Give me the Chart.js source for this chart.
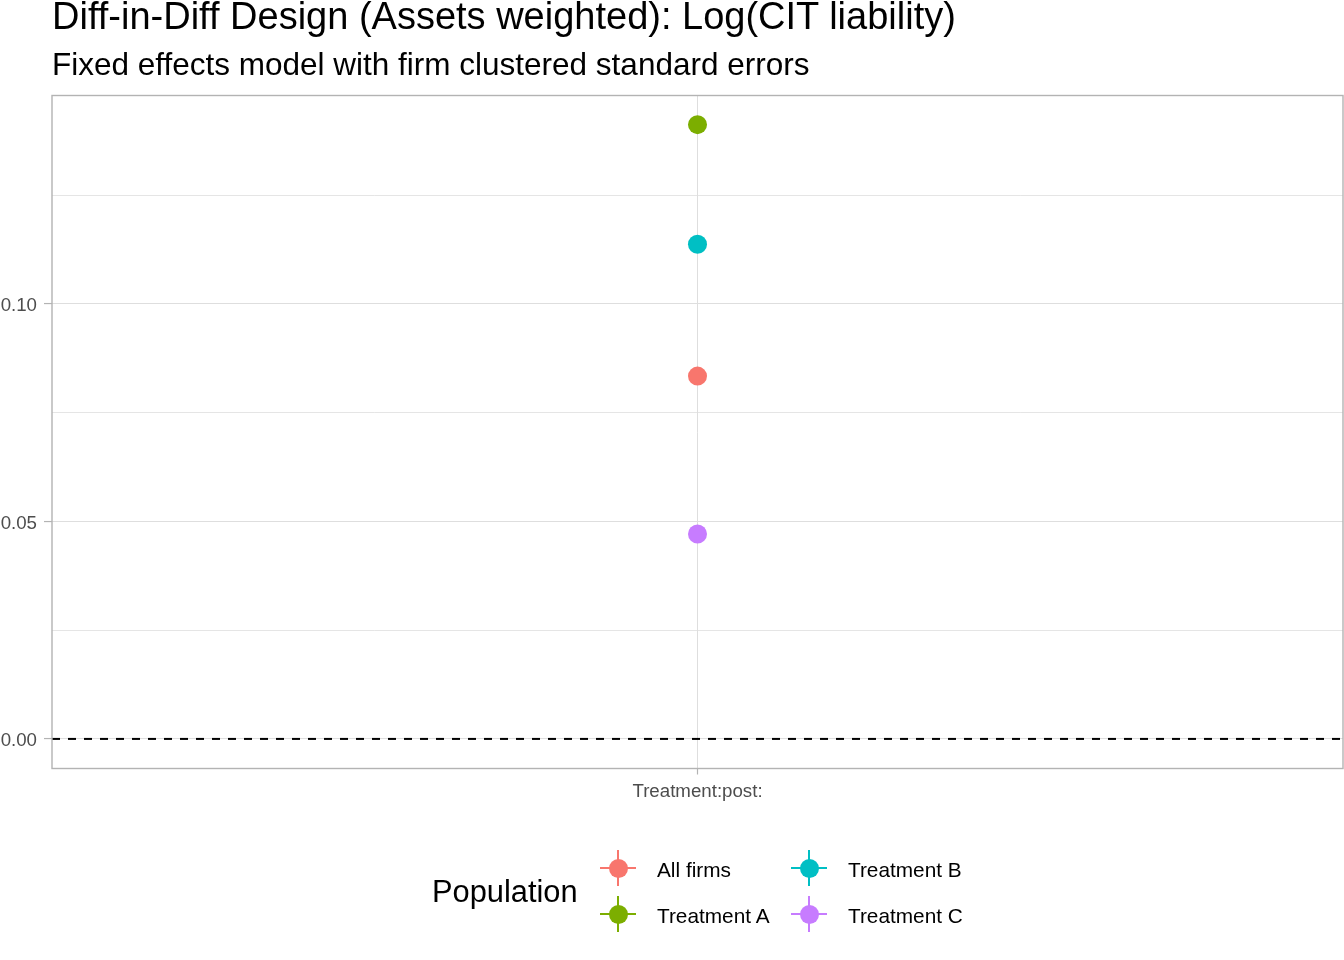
<!DOCTYPE html>
<html>
<head>
<meta charset="utf-8">
<title>Diff-in-Diff Design (Assets weighted): Log(CIT liability)</title>
<script src="https://cdn.jsdelivr.net/npm/chart.js@4.4.1/dist/chart.umd.min.js"></script>
<style>
  html, body { margin: 0; padding: 0; background: #fff; }
  body { font-family: "Liberation Sans", Arial, sans-serif; }
  #wrap { position: relative; width: 1344px; height: 960px; overflow: hidden; }
  #chart { position: absolute; left: 0; top: 0; }
  .title { position: absolute; left: 52px; white-space: nowrap; color: #000; line-height: 1; }
  #main-title { font-size: 38px; top: -3px; }
  #sub-title { font-size: 31.5px; top: 49px; }
  #legend-title { position: absolute; left: 432px; top: 877px; font-size: 30.8px; line-height: 1; white-space: nowrap; }
  .key { position: absolute; width: 36px; height: 36px; }
  .key .h { position: absolute; left: 0; top: 17px; width: 36px; height: 2px; }
  .key .v { position: absolute; left: 17px; top: 0; width: 2px; height: 36px; }
  .key .dot { position: absolute; left: 8.5px; top: 8.5px; width: 19px; height: 19px; border-radius: 50%; }
  .key-label { position: absolute; font-size: 20.8px; line-height: 1; white-space: nowrap; color: #000; }
</style>
</head>
<body>
<div id="wrap">
  <canvas id="chart" width="1344" height="960"></canvas>
  <div id="main-title" class="title">Diff-in-Diff Design (Assets weighted): Log(CIT liability)</div>
  <div id="sub-title" class="title">Fixed effects model with firm clustered standard errors</div>
  <div id="legend-title">Population</div>
  <div id="legend"></div>
</div>
<script>
  // data
  const categories = ['Treatment:post:'];
  const populations = ['All firms', 'Treatment A', 'Treatment B', 'Treatment C'];
  const estimates = [0.0834, 0.1412, 0.1137, 0.0471];
  const yMajorTicks = [0, 0.05, 0.10];
  const yMinorTicks = [0.025, 0.075, 0.125];
  const colors = ['#F8766D', '#7CAE00', '#00BFC4', '#C77CFF'];

  function isMajor(v) {
    return yMajorTicks.some(t => Math.abs(t - v) < 1e-9);
  }

  // panel border + dashed zero line
  const panelPlugin = {
    id: 'panel',
    beforeDatasetsDraw(chart) {
      const ctx = chart.ctx;
      const area = chart.chartArea;
      const y0 = chart.scales.y.getPixelForValue(0);
      ctx.save();
      ctx.strokeStyle = '#000';
      ctx.lineWidth = 2;
      ctx.setLineDash([8, 8]);
      ctx.beginPath();
      ctx.moveTo(area.left, y0);
      ctx.lineTo(area.right, y0);
      ctx.stroke();
      ctx.restore();
    },
    afterDraw(chart) {
      const ctx = chart.ctx;
      const a = chart.chartArea;
      ctx.save();
      ctx.strokeStyle = '#B3B3B3';
      ctx.lineWidth = 1.4;
      ctx.strokeRect(a.left, a.top, a.right - a.left, a.bottom - a.top);
      ctx.restore();
    }
  };

  const datasets = populations.map((name, i) => ({
    label: name,
    data: [estimates[i]],
    showLine: false,
    pointRadius: 9.5,
    pointHoverRadius: 9.5,
    pointBackgroundColor: colors[i],
    pointBorderWidth: 0,
    borderColor: colors[i],
    backgroundColor: colors[i]
  }));

  const ctx = document.getElementById('chart').getContext('2d');
  const chart = new Chart(ctx, {
    type: 'line',
    data: { labels: categories, datasets: datasets },
    options: {
      responsive: false,
      animation: false,
      events: [],
      layout: {
        autoPadding: false,
        padding: { top: 95.5, right: 1, left: 0, bottom: 0 }
      },
      plugins: {
        legend: { display: false },
        title: { display: false },
        tooltip: { enabled: false }
      },
      scales: {
        x: {
          type: 'category',
          offset: true,
          border: { display: false },
          grid: {
            offset: false,
            color: '#DEDEDE',
            lineWidth: 1,
            tickColor: '#B3B3B3',
            tickLength: 6,
            tickWidth: 1.2
          },
          ticks: {
            color: '#4D4D4D',
            font: { family: '"Liberation Sans", Arial, sans-serif', size: 18.7 },
            padding: 6,
            maxRotation: 0
          },
          afterFit(scale) {
            scale.height = 960 - 768.5;
            scale.paddingLeft = 0;
            scale.paddingRight = 0;
          }
        },
        y: {
          type: 'linear',
          min: -0.0068,
          max: 0.1479,
          border: { display: false },
          afterBuildTicks(scale) {
            scale.ticks = yMajorTicks.concat(yMinorTicks)
              .sort((a, b) => a - b)
              .map(v => ({ value: v }));
          },
          grid: {
            color: '#DEDEDE',
            lineWidth: c => (c.tick && isMajor(c.tick.value)) ? 1.1 : 0.8,
            tickColor: c => (c.tick && isMajor(c.tick.value)) ? '#B3B3B3' : 'rgba(0,0,0,0)',
            tickLength: 8,
            tickWidth: 1.2
          },
          ticks: {
            color: '#4D4D4D',
            font: { family: '"Liberation Sans", Arial, sans-serif', size: 18.7 },
            padding: 7,
            labelOffset: 2,
            callback: v => isMajor(v) ? v.toFixed(2) : ''
          },
          afterFit(scale) {
            scale.width = 52;
            scale.paddingTop = 0;
            scale.paddingBottom = 0;
          }
        }
      }
    },
    plugins: [panelPlugin]
  });

  // legend: two columns, filled column by column
  const legend = document.getElementById('legend');
  populations.forEach((name, i) => {
    const col = Math.floor(i / 2);
    const row = i % 2;
    const cx = 618 + col * 191;
    const cy = 868 + row * 46;
    const key = document.createElement('div');
    key.className = 'key';
    key.style.left = (cx - 18) + 'px';
    key.style.top = (cy - 18) + 'px';
    key.innerHTML = '<div class="h"></div><div class="v"></div><div class="dot"></div>';
    key.querySelectorAll('div').forEach(d => d.style.background = colors[i]);
    legend.appendChild(key);

    const label = document.createElement('div');
    label.className = 'key-label';
    label.textContent = name;
    label.style.left = (cx + 39) + 'px';
    label.style.top = (cy - 8.5) + 'px';
    legend.appendChild(label);
  });
</script>
</body>
</html>
